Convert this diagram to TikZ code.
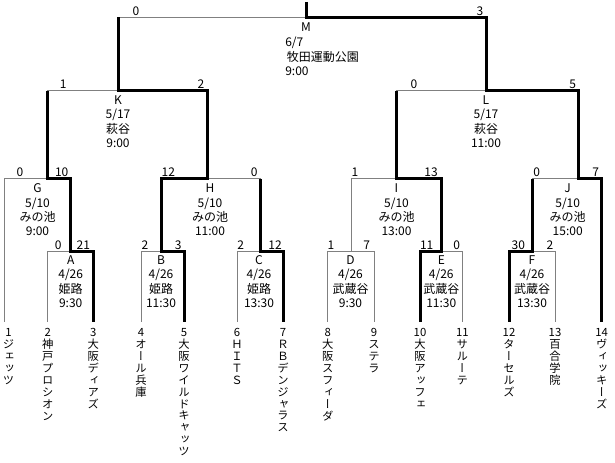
\documentclass[tikz,border=0pt]{standalone}
\usepackage{fontspec}
\setmainfont{Noto Sans CJK JP}
\newfontfamily\tate[RawFeature=+vert]{Noto Sans CJK JP}
\usetikzlibrary{calc}
\tikzset{lose/.style = {draw=gray, line width=0.75pt}}
\tikzset{win/.style = {draw=black, line width=2.25pt}}
\tikzset{info/.style = {inner sep=0pt, anchor=base, font=\fontsize{9}{10}\selectfont}}
\tikzset{team/.style = {inner sep=0pt, anchor=north, align=center, font=\tate\fontsize{8.5}{8.9}\selectfont}}

\begin{document}
\begin{tikzpicture}[x=0.75pt, y=-0.75pt]
\useasboundingbox (0,0) rectangle (615,463);
% leaves
\foreach \n/\x in {1/4.7, 2/47.7, 3/93.3, 4/141, 5/184, 6/237, 7/283, 8/327.7, 9/374, 10/420, 11/462.3, 12/509, 13/555, 14/601.7}
  \coordinate (T\n) at (\x,322);
% matches: name/left/centre/right/level
\foreach \m/\l/\c/\r/\y in {A/47.7/70.7/93.3/252, B/141/161/184/252, C/237/260/283/252, D/327.7/351/374/252, E/420/441/462.3/252, F/509/532.5/555/252, G/4.7/47.7/70.7/179, H/161/207/260/179, I/351/396.7/441/179, J/532.5/578/601.7/179, K/47.7/118/207/91, L/396.7/486/578/91, M/118/306/486/17.5}
{
  \coordinate (\m) at (\c,\y);
  \coordinate (\m-l) at (\l,\y);
  \coordinate (\m-r) at (\r,\y);
}
\coordinate (top) at (306,2);

% brackets
\foreach \m/\a/\b in {A/T2/T3, B/T4/T5, C/T6/T7, D/T8/T9, E/T10/T11, F/T12/T13, G/T1/A, H/B/C, I/D/E, J/F/T14, K/G/H, L/I/J, M/K/L}
  \draw[lose] (\a) -- (\m-l) -- (\m-r) -- (\b);

% winners
\draw[win] (top) -- (M) -- (M-r) -- (L) -- (L-r) -- (J) -- (J-r) -- (T14);
\draw[win] (M-l) -- (K) -- (K-r) -- (H) -- (H-l) -- (B) -- (B-r) -- (T5);
\draw[win] (K-l) -- (G) -- (G-r) -- (A) -- (A-r) -- (T3);
\draw[win] (H-r) -- (C) -- (C-r) -- (T7);
\draw[win] (L-l) -- (I) -- (I-r) -- (E) -- (E-l) -- (T10);
\draw[win] (J-l) -- (F) -- (F-l) -- (T12);

% scores
\foreach \s/\x/\y/\v in {M1/136/15.5/0, M2/480/15.5/3, K1/63.3/89/1, K2/201/89/2, L1/414/89/0, L2/572.7/89/5,
  G1/20/177/0, G2/61.7/177/10, H1/168.3/177/12, H2/254.3/177/0, I1/355/177/1, I2/431/177/13, J1/536.7/177/0, J2/595.7/177/7,
  A1/58.3/250/0, A2/83.3/250/21, B1/145/250/2, B2/178.3/250/3, C1/240.7/250/2, C2/275/250/12,
  D1/331/250/1, D2/366.7/250/7, E1/426.7/250/11, E2/456.7/250/0, F1/518.3/250/30, F2/550/250/2}
  \node[info] (s\s) at (\x,\y) {\v};

% match info
\foreach \m/\x/\y/\d/\p/\t in {A/70.7/264.5/{4/26}/姫路/9:30, B/161/264.5/{4/26}/姫路/11:30, C/259/264.5/{4/26}/姫路/13:30,
  D/350.5/264.5/{4/26}/武蔵谷/9:30, E/441.3/264.5/{4/26}/武蔵谷/11:30, F/532/264.5/{4/26}/武蔵谷/13:30,
  G/37.5/192.8/{5/10}/みの池/9:00, H/210/192.8/{5/10}/みの池/11:00, I/396.5/192.8/{5/10}/みの池/13:00, J/567.7/192.8/{5/10}/みの池/15:00,
  K/118/104.5/{5/17}/萩谷/9:00, L/486/104.5/{5/17}/萩谷/11:00}
{
  \node[info] (\m-id) at (\x,\y) {\m};
  \node[info] (\m-date) at (\x,\y+14.4) {\d};
  \node[info] (\m-place) at (\x,\y+28.8) {\p};
  \node[info] (\m-time) at (\x,\y+43.2) {\t};
}
\node[info] (M-id) at (306,31.8) {M};
\node[info, anchor=base west] (M-date) at (285,46.2) {6/7};
\node[info, anchor=base west] (M-place) at (286.5,61.2) {牧田運動公園};
\node[info, anchor=base west] (M-time) at (285,75.2) {9:00};

% teams
\foreach \n/\x/\name in {1/8.5/{ジ\\ェ\\ッ\\ツ}, 2/47.7/{神\\戸\\プ\\ロ\\シ\\オ\\ン}, 3/93.3/{大\\阪\\デ\\ィ\\ア\\ズ},
  4/141/{オ\\ー\\ル\\兵\\庫}, 5/184/{大\\阪\\ワ\\イ\\ル\\ド\\キ\\ャ\\ッ\\ツ}, 6/237/{Ｈ\\Ｉ\\Ｔ\\Ｓ},
  7/283/{Ｒ\\Ｂ\\デ\\ン\\ジ\\ャ\\ラ\\ス}, 8/327.7/{大\\阪\\ス\\フ\\ィ\\ー\\ダ}, 9/374/{ス\\テ\\ラ},
  10/420/{大\\阪\\ア\\ッ\\フ\\ェ}, 11/462.3/{サ\\ル\\ー\\テ}, 12/509/{タ\\ー\\セ\\ル\\ズ},
  13/555/{百\\合\\学\\院}, 14/601.7/{ヴ\\ィ\\ッ\\キ\\ー\\ズ}}
  \node[team] (N\n) at (\x,328.5) {\n\\\name};
\end{tikzpicture}
\end{document}
